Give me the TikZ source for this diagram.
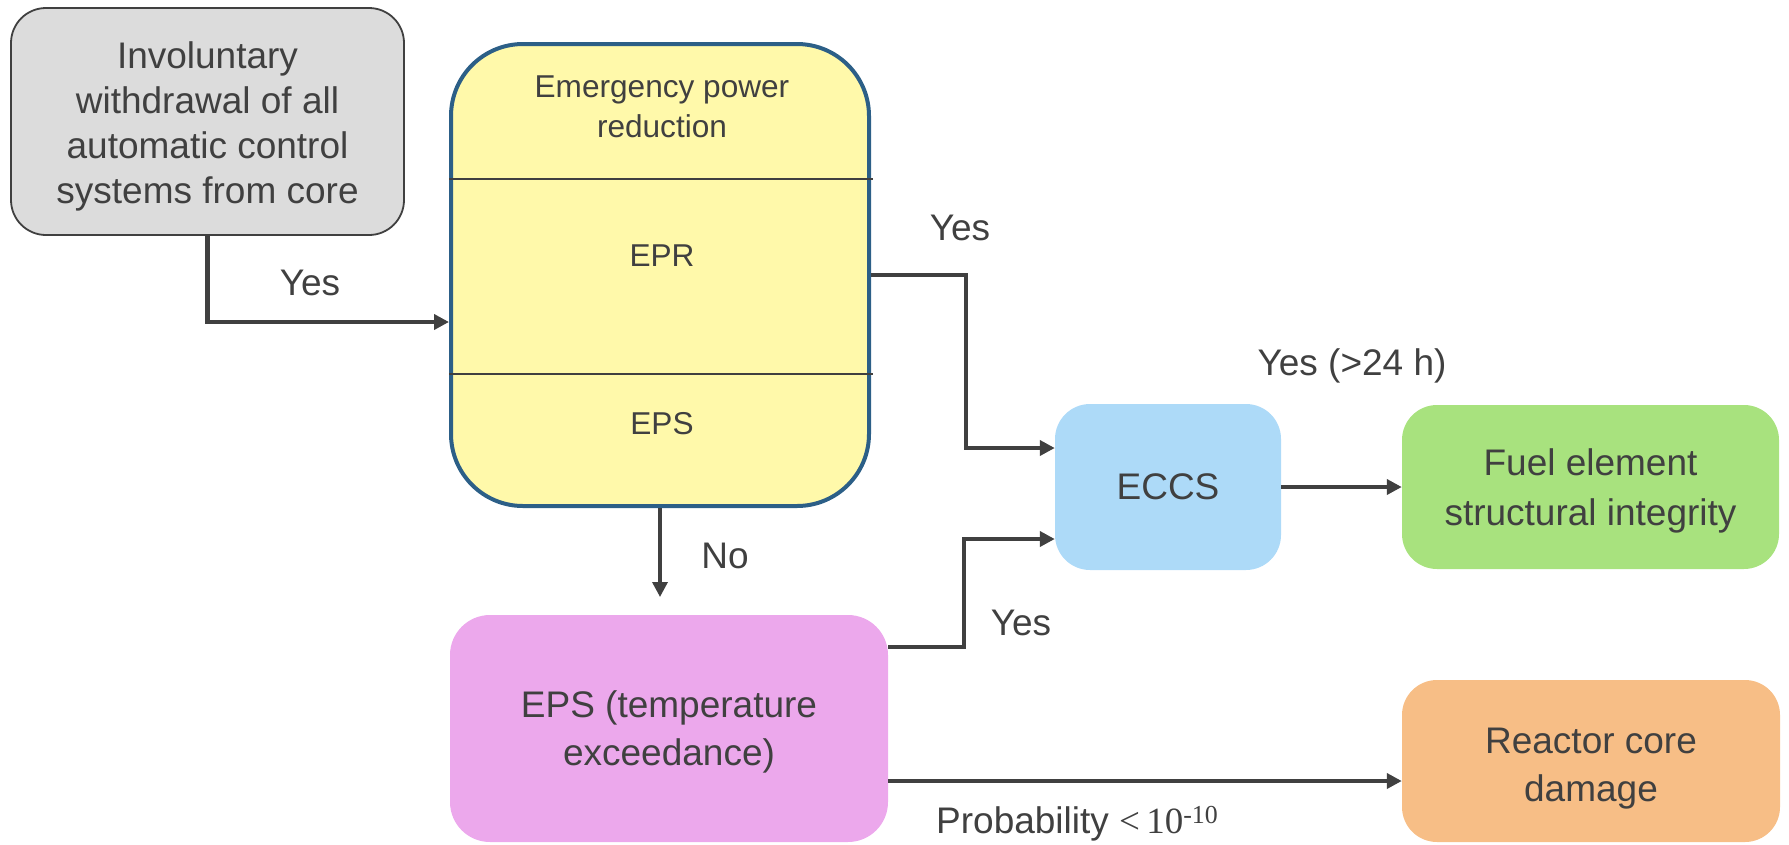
\documentclass[tikz,border=0pt]{standalone}
\usepackage{fontspec}
\setmainfont{Liberation Sans}
\newfontfamily\probfont{Liberation Serif}
\usetikzlibrary{arrows.meta}
\definecolor{ink}{HTML}{404040}
\definecolor{greyfill}{HTML}{DCDCDC}
\definecolor{yellowfill}{HTML}{FFF9AA}
\definecolor{yellowedge}{HTML}{2C5F87}
\definecolor{bluefill}{HTML}{ADDAF8}
\definecolor{greenfill}{HTML}{A8E27E}
\definecolor{pinkfill}{HTML}{ECA8EC}
\definecolor{orangefill}{HTML}{F7BE86}
% invisible strut that lowers a centred text block by half of (#1 - 27pt)
\newcommand{\topstrut}[1]{\rule{0pt}{#1}}
\tikzset{
  box/.style={rectangle, inner sep=0pt, align=center, text=ink,
    font=\fontsize{37}{48}\selectfont},
  small/.style={text=ink, inner sep=0pt, align=center,
    font=\fontsize{31.6}{40}\selectfont},
  lbl/.style={text=ink, inner sep=0pt, font=\fontsize{37}{45}\selectfont},
  conn/.style={draw=ink, line width=4.4pt,
    -{Triangle[length=15pt,width=15pt]}},
  divider/.style={draw=ink, line width=1.6pt}
}
\begin{document}
\begin{tikzpicture}[x=1pt,y=-1pt]
\useasboundingbox (0,0) rectangle (1789,844);

% boxes
\node[box, fill=greyfill, draw=ink, line width=1.8pt, rounded corners=35pt,
  minimum width=393pt, minimum height=227pt,
  font=\fontsize{37}{45}\selectfont] (gray) at (207.5,121.5)
  {\topstrut{37pt}Involuntary\\withdrawal of all\\automatic control\\systems from core};

\node[box, fill=yellowfill, draw=yellowedge, line width=4pt, rounded corners=72pt,
  minimum width=418pt, minimum height=462pt] (epr) at (660,275) {};
\draw[divider] (449,179) -- (873,179);
\draw[divider] (449,374) -- (873,374);
\node[small] (eprtitle) at (662,107) {Emergency power\\reduction};
\node[small] (eprmid) at (662,256) {EPR};
\node[small] (eprlow) at (662,424) {EPS};

\node[box, fill=bluefill, rounded corners=35pt,
  minimum width=226pt, minimum height=166pt] (eccs) at (1168,487) {ECCS};
\node[box, fill=greenfill, rounded corners=35pt,
  minimum width=377pt, minimum height=164pt,
  font=\fontsize{37}{50}\selectfont] (green) at (1590.5,487)
  {\topstrut{35pt}Fuel element\\structural integrity};
\node[box, fill=pinkfill, rounded corners=40pt,
  minimum width=438pt, minimum height=227pt] (pink) at (669,728.5)
  {\topstrut{34pt}EPS (temperature\\exceedance)};
\node[box, fill=orangefill, rounded corners=35pt,
  minimum width=378pt, minimum height=162pt] (reactor) at (1591,761)
  {\topstrut{41pt}Reactor core\\damage};

% connectors
\draw[conn] (gray.south) |- ([yshift=-47pt]epr.west);
\draw[conn] (epr.east) -- ++(95,0) |- ([yshift=39pt]eccs.west);
\draw[conn] ([yshift=81.5pt]pink.east) -- ++(76,0) |- ([yshift=-52pt]eccs.west);
\draw[conn] (eccs.east) -- (green.west);
\coordinate (noend) at (660,597);
\draw[conn, line width=3.4pt] (epr.south) -- (noend);
\draw[conn] ([yshift=-52.5pt]pink.east) -- ([yshift=-20pt]reactor.west);

% labels
\node[lbl, anchor=base] (yesa) at (310,295) {Yes};
\node[lbl, anchor=base] (yesb) at (960,240) {Yes};
\node[lbl, anchor=base] (yesc) at (1352,375) {Yes (>24 h)};
\node[lbl, anchor=base] (no) at (725,568) {No};
\node[lbl, anchor=base] (yesd) at (1021,635) {Yes};
\node[lbl, anchor=base west] (prob) at (936,833)
  {Probability {\probfont <\,10\textsuperscript{-10}}};
\end{tikzpicture}
\end{document}
